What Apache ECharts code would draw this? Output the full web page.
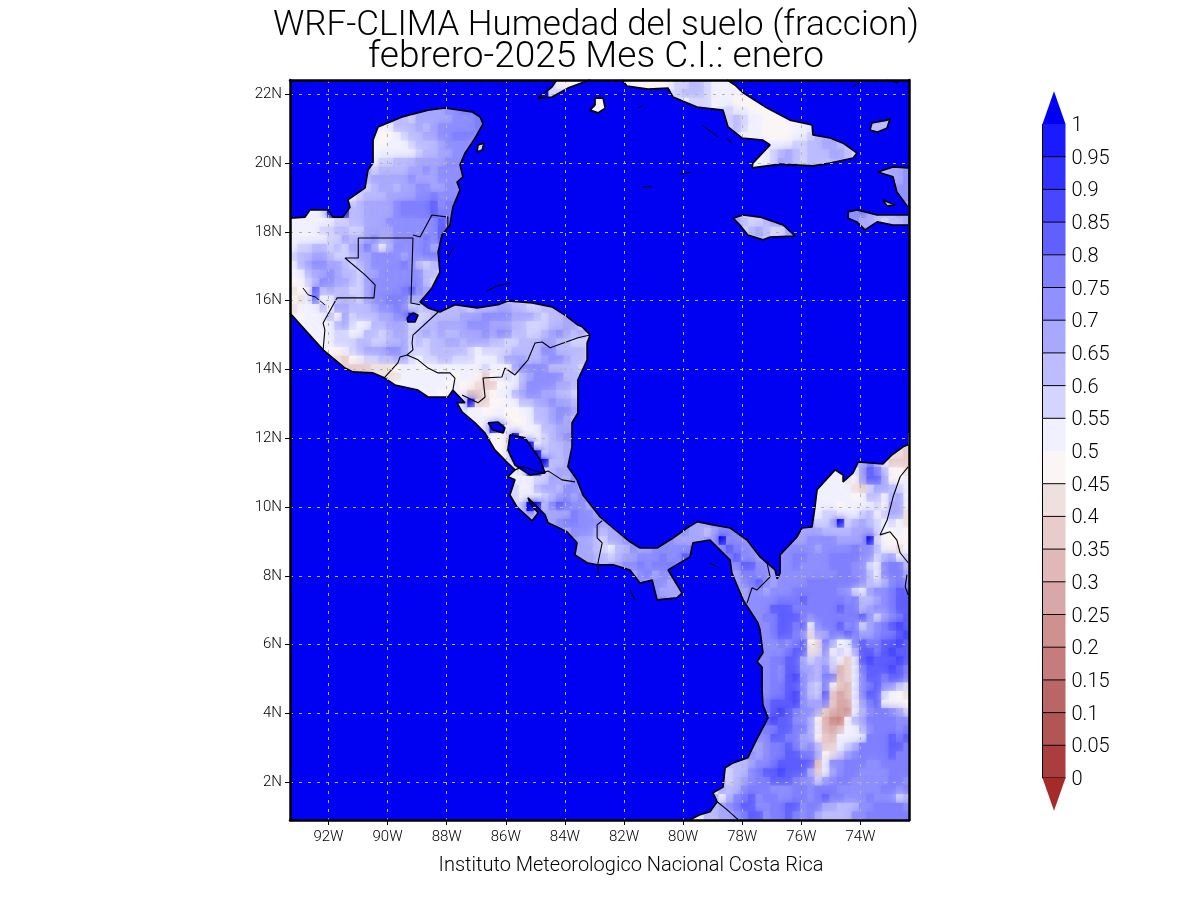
<!DOCTYPE html>
<html>
<head>
<meta charset="utf-8">
<script src="https://cdn.jsdelivr.net/npm/echarts@6/dist/echarts.min.js"></script>
<style>
  html, body { margin: 0; background: #fff; }
  #chart { width: 1200px; height: 900px; }
</style>
</head>
<body>
<div id="chart"></div>
<script>
const lonTicks = [-92, -90, -88, -86, -84, -82, -80, -78, -76, -74];
const latTicks = [2, 4, 6, 8, 10, 12, 14, 16, 18, 20, 22];
const legendTicks = [0, 0.05, 0.1, 0.15, 0.2, 0.25, 0.3, 0.35, 0.4, 0.45, 0.5, 0.55, 0.6, 0.65, 0.7, 0.75, 0.8, 0.85, 0.9, 0.95, 1];

// one colour per class, a = 0-0.05 ... t = 0.95-1, '.' = above 1 (sea, lakes)
const levelCodes = 'abcdefghijklmnopqrst.';
const levelColors = ['#aa3d3d', '#b25555', '#bb6666', '#c67c7c', '#cf9090', '#d8a8a8', '#e0b8b8', '#e8cccc', '#efe0e0', '#fbf5f5',
  '#f0f0ff', '#d4d4ff', '#bcbcff', '#a8a8ff', '#9090ff', '#8080ff', '#6060ff', '#4747ff', '#3030ff', '#1a1aff', '#0000f2'];
const seaColor = '#0000f2';
const belowColor = '#a52a2a';

// soil moisture classes, 0.25 degree cells, north to south
// each row: "firstColumn:codes", everything not listed is sea
const cellSize = 0.25;
const firstLon = -93.3;
const firstLat = 22.4;
const soilRows = [
  '36:kjjk 46:kjjjjkllmmlkkkj',
  '36:ll 52:lmmmlkkkkj',
  '41:kj 53:klllkkkjjjk',
  '19:nnooppp 41:kj 59:lkkjjj',
  '14:mmlnnnnnooop 59:lmlkkjjjk',
  '12:kkmmmnmnooooop 59:lmlkkjjjjkkk 79:mm',
  '11:kjjklmmnnoopppo 61:kkkjjjjkklm',
  '11:jjkkklmmmnoooo 25:l 65:kkkllmmnnm',
  '11:jkkkkklmmnnoo 64:klmnmlmmmnnml',
  '11:kllmmmnnnnoo 63:kklnnmlmmm',
  '11:lmmmmnnonooo 80:mnno',
  '10:mnnnnnonnnooo 82:no',
  '10:lmnnmnnoonnoo 83:o',
  '8:klmmmnnnnoopooo',
  '8:lmnnnnoppppqo 21:pp',
  '3:kk 5:... 8:mmnnnnoppppqp 76:opnmmmnn',
  '0:kkkkkkllmmnnnoooooooqp 60:nmllmno 76:onnmlmmn',
  '0:kkkkllmmllnnnnooooooq 61:lmnmlln',
  '0:kkkkkllnmmnonnoooopoq',
  '0:kllmmlmlnnpnkmoooopnn',
  '0:lmmnnmllmnnoooonooppo',
  '0:kmnoonnmlmnoooopomlmn',
  '0:kkmnnonmmlnnoooooomml',
  '0:jjlmoonnmlnoooooooml',
  '0:ijjqmnmmllnoooopqon',
  '0:jikqkkmmmlnoopppnn',
  '0:ikkkmjnnmmmnoopol 21:mmmlmmmnnmmllmm',
  '1:jkkkmjnlmmmnnoo 16:. 17:llmmmmnnnoooonnnmlmmn',
  '1:jkkkkmnlkkmmnnn 16:llmmnnnnooonnnmmlllmmnnl',
  '2:jkkkllkkmmlmnn 16:lmnmnmmnnnonoommllmnonmnl',
  '3:jkklllmmllmmn 16:lmlmmnnmnnnmmllmmmnnmmlll',
  '5:jjklmnnnoon 16:lllmmmmmlkllllmmmmoommmml',
  '6:ihjkllmmnnl 17:kllmmlllkkklnnnmmnoonmml',
  '8:hhhiiij 15:kkkjkkkkkkklkkjnoooommmml',
  '13:iikkkkkkkjkkjhjklkmnoooommm',
  '14:jkkkkkkjkjjihhjkkmoooonnmm',
  '19:kjk 24:hhijkkmnoonnmml',
  '23:k.hhjjkkmmnnonnm',
  '24:kkjjkjjkkmmnoon',
  '25:kkkkjjjkmmnonm',
  '26:k..kjjkkmmnn',
  '27:kjj.jkklmno',
  '28:jj...klmmn 83:h',
  '29:j....lmmn 81:iih',
  '30:k....mm 77:n 80:jhhh',
  '31:k..lmnn 74:k 76:knqpmjji',
  '30:kkkllnnmo 72:kkk 76:jnqqnjjk',
  '30:lkkmnnmoon 71:kkkkkihlnnmlk',
  '30:lkkklmnonoo 70:kkkkkkjjmmkmnk',
  '31:l..moqpoon 71:kkkjkkkkljnnk',
  '33:mnnnnpoon 71:kllkkklmklnni',
  '35:noppooon 55:nno 71:llm.lmnmlklki',
  '37:nooonmnn 53:onnmnooo 69:nnnmmmmnnnlkjkj',
  '39:nnmlnnon 51:onnn 57:n.ooon 68:nnoooonnnn.ljjjj',
  '39:nnmlkmmonnooooo 57:ooqpoon 66:ooooonoooopoomkjij',
  '39:nn 42:mlmnnooopooq 59:pqoon 66:ooppoooppppoolmnkl',
  '41:nmnnoopoppp 60:oqqoon 66:oopoooopppoolkoppm',
  '46:nopnoo 60:nppoon 66:ooooooooppoomkoppn',
  '47:onoon 60:nopqon 66:oooopppppppomlmopo',
  '49:onnn 61:noono 66:ooppppppoolknoopq',
  '49:oonn 61:nooo 65:opppqpppppopmmnopq',
  '62:oooqqqppppppqppmnoopqq',
  '63:oppqqqpoppppppqolnopq',
  '64:opqqpqkoppqoplnopqrq',
  '64:opqqpoinnppqpnnoppqr',
  '64:oopopqjipnkkoqppqqrq',
  '64:ooopqqiioklkmqqpqrqq',
  '63:ooppqqnlmnlkhkqrqqqrq',
  '64:opoqqnnmolghkpqqqrqp',
  '64:opoqronmppghkoqqpqqp',
  '64:oppqqomlpkhgkopqooml',
  '64:oppqromlqhfgkoqqlkji',
  '64:pqqqronnphffknpqkjjj',
  '64:pqrqpoonhgfekmopponl',
  '64:qrqqoonjgedjmnppppoo',
  '64:ppqqppnkgfgkkmopppop',
  '64:oqqppnnjhgkkkkpppqpq',
  '63:noppqpnomhhklmppppqqp',
  '63:noppqqppnjilnoppppqpp',
  '60:mmnoopqqqqqgkoopppoopppp',
  '59:lmmopqqrqqqnhknoppooooppp',
  '59:lmnoppqqqpoolnoppoooooppo',
  '58:nmmopppoooppopppooooooppop',
  '58:kmopqoppooppopqppooopooolm',
  '57:mnopqqooppqqoppnnmmmooppppo',
  '55:kmmnnopqqoppqpopnmmmmoopppppp'
];

// coastlines in [lon, lat]
const caribbeanCoast = [[-93.30,18.40],[-92.79,18.43],[-92.62,18.64],[-92.01,18.64],[-91.85,18.43],[-91.51,18.43],[-91.27,18.72],[-91.34,18.93],[-90.76,19.28],[-90.66,19.80],[-90.49,20.00],[-90.49,20.67],[-90.32,21.05],[-89.51,21.34],[-88.63,21.54],[-88.06,21.60],[-87.14,21.49],[-86.87,21.34],[-86.77,21.14],[-87.04,20.73],[-87.38,20.29],[-87.55,19.95],[-87.45,19.60],[-87.65,19.45],[-87.55,19.22],[-87.79,18.72],[-87.89,18.20],[-88.16,17.91],[-88.29,17.42],[-88.23,16.83],[-88.50,16.37],[-88.90,15.96],[-88.63,15.79],[-88.23,15.67],[-87.72,15.88],[-86.97,15.79],[-86.26,15.88],[-85.93,15.99],[-85.11,15.93],[-84.44,15.82],[-84.00,15.58],[-83.56,15.29],[-83.42,15.24],[-83.15,15.00],[-83.25,14.77],[-83.25,14.28],[-83.56,13.70],[-83.56,12.74],[-83.76,12.45],[-83.76,11.75],[-83.90,11.17],[-83.59,10.79],[-83.39,10.35],[-82.81,9.71],[-82.37,9.39],[-81.80,8.99],[-81.46,8.81],[-80.88,8.81],[-80.34,9.10],[-79.87,9.39],[-79.53,9.57],[-78.99,9.48],[-78.41,9.39],[-77.84,9.04],[-77.40,8.55],[-76.89,8.17],[-76.82,7.91],[-76.72,8.08],[-76.72,8.61],[-76.15,9.13],[-75.98,9.39],[-75.64,9.42],[-75.54,10.00],[-75.47,10.50],[-74.86,11.08],[-74.59,10.93],[-74.59,10.73],[-74.25,10.99],[-74.08,11.31],[-73.24,11.25],[-72.93,11.52],[-72.56,11.75],[-72.39,11.81]];
const pacificCoast = [[-93.30,15.64],[-92.79,15.15],[-92.18,14.57],[-91.44,14.04],[-91.17,13.93],[-90.49,13.90],[-90.09,13.75],[-89.75,13.55],[-88.97,13.40],[-88.63,13.20],[-87.95,13.20],[-87.79,13.40],[-87.38,13.03],[-87.65,13.03],[-87.48,12.77],[-87.04,12.45],[-86.70,12.15],[-86.37,11.66],[-85.93,11.28],[-85.69,11.08],[-85.93,10.88],[-85.69,10.79],[-85.86,10.35],[-85.62,10.00],[-85.11,9.60],[-84.91,9.83],[-85.18,10.12],[-85.25,10.27],[-84.67,9.77],[-84.57,9.54],[-83.93,9.28],[-83.59,8.96],[-83.66,8.61],[-83.25,8.38],[-82.91,8.32],[-82.37,8.32],[-81.80,8.17],[-81.46,7.79],[-81.05,7.88],[-80.88,7.30],[-80.21,7.36],[-80.04,7.50],[-80.51,8.17],[-79.77,8.55],[-79.67,8.96],[-79.09,9.04],[-78.41,8.46],[-78.35,8.08],[-77.97,7.30],[-77.47,6.63],[-77.40,6.43],[-77.30,5.76],[-77.50,5.50],[-77.33,5.35],[-77.33,4.68],[-77.30,4.25],[-77.13,3.87],[-77.57,3.14],[-77.81,2.71],[-78.31,2.56],[-78.58,2.42],[-78.65,1.86],[-78.99,1.69],[-78.85,1.43],[-79.09,1.14],[-79.43,1.05],[-79.77,0.91]];
const cubaCoast = [[-82.07,22.42],[-81.90,22.24],[-81.19,22.15],[-80.51,22.18],[-80.34,21.92],[-79.53,21.63],[-78.65,21.54],[-78.48,21.05],[-78.01,20.73],[-77.30,20.67],[-77.06,20.53],[-77.64,20.00],[-77.67,19.86],[-76.72,19.97],[-75.61,19.92],[-75.03,20.00],[-74.25,20.15],[-74.12,20.29],[-74.59,20.58],[-75.03,20.73],[-75.61,20.82],[-75.64,21.11],[-76.39,21.25],[-77.16,21.60],[-77.97,22.04],[-78.25,22.27],[-78.52,22.42]];
const westCubaCoast = [[-83.15,22.42],[-83.90,22.18],[-84.44,21.92],[-84.91,21.89],[-84.44,22.21],[-84.27,22.42]];
const juventudCoast = [[-82.98,21.89],[-82.71,21.89],[-82.64,21.60],[-82.88,21.46],[-83.15,21.54],[-82.98,21.69],[-82.98,21.89]];
const cozumelCoast = [[-86.97,20.32],[-86.94,20.53],[-86.74,20.58],[-86.80,20.38],[-86.97,20.32]];
const jamaicaCoast = [[-78.31,18.40],[-77.97,18.49],[-77.40,18.43],[-76.62,18.20],[-76.22,17.88],[-77.06,17.85],[-77.30,17.77],[-77.81,17.91],[-78.08,18.20],[-78.31,18.40]];
const haitiNorthCoast = [[-72.39,19.86],[-72.90,19.89],[-73.41,19.74],[-72.90,19.60],[-72.77,19.16],[-72.39,18.72]];
const haitiSouthCoast = [[-72.39,18.20],[-72.90,18.20],[-73.44,18.29],[-73.85,18.06],[-74.12,18.29],[-74.42,18.40],[-74.42,18.58],[-74.12,18.64],[-73.44,18.49],[-72.39,18.49]];
const inaguaCoast = [[-73.68,20.96],[-73.61,21.17],[-73.10,21.25],[-73.00,21.31],[-73.10,21.02],[-73.44,20.90],[-73.68,20.96]];
const gonaveCoast = [[-73.24,18.93],[-72.83,18.78],[-73.10,18.75],[-73.24,18.93]];
const smallIslands = [
  [[-86.64,16.28],[-86.30,16.43],[-85.86,16.51]],
  [[-79.36,21.11],[-78.82,20.76]],
  [[-78.52,20.73],[-78.35,20.56]],
  [[-80.11,19.68],[-79.73,19.74]],
  [[-81.39,19.31],[-81.05,19.31]],
  [[-81.53,21.60],[-81.36,21.69]],
  [[-74.25,22.21],[-73.95,22.42]],
  [[-73.10,22.42],[-72.73,22.33]],
  [[-87.95,17.27],[-87.79,17.53]],
  [[-92.86,16.37],[-92.69,16.17],[-92.45,16.11],[-92.12,15.88]],
  [[-79.09,8.37],[-78.85,8.26]],
  [[-81.80,7.59],[-81.63,7.30]],
  [[-81.72,12.55],[-81.68,12.50]]
];
const lakeNicaragua = [[-85.86,12.10],[-85.35,12.01],[-84.84,11.37],[-84.67,10.99],[-85.18,10.93],[-85.69,11.22],[-85.93,11.66],[-85.86,12.10]];
const lakeManagua = [[-86.60,12.45],[-86.26,12.47],[-86.03,12.30],[-86.09,12.15],[-86.43,12.24],[-86.60,12.45]];
const lakeIzabal = [[-89.34,15.50],[-89.14,15.64],[-88.97,15.58],[-89.07,15.38],[-89.31,15.38],[-89.34,15.50]];

// country borders
const borderLines = [
  [[-92.18,14.57],[-92.12,15.15],[-92.18,15.35],[-91.71,16.08],[-90.46,16.08],[-90.42,16.46],[-90.76,16.75],[-91.44,17.24],[-90.99,17.24],[-90.99,17.82],[-89.14,17.82],[-89.21,15.93],[-88.90,15.88]],
  [[-89.14,17.91],[-88.90,17.85],[-88.50,18.49],[-87.96,18.43],[-87.96,18.14]],
  [[-88.29,15.67],[-89.14,15.00],[-89.17,14.77],[-89.14,14.57],[-89.34,14.42]],
  [[-89.34,14.42],[-89.58,14.36],[-89.65,14.19],[-90.09,13.78]],
  [[-89.34,14.42],[-88.97,14.28],[-88.63,14.04],[-88.29,13.90],[-87.89,13.90],[-87.72,13.75],[-87.79,13.40]],
  [[-87.48,13.26],[-86.94,13.03],[-86.70,13.20],[-86.77,13.75],[-86.13,13.78],[-86.03,14.04],[-85.69,13.84],[-85.25,14.28],[-85.01,14.77],[-84.77,14.80],[-84.50,14.63],[-83.56,14.92],[-83.15,15.00]],
  [[-85.69,11.08],[-85.42,11.17],[-84.77,10.99],[-84.57,11.05],[-84.10,10.79],[-83.66,10.73]],
  [[-82.74,9.60],[-82.91,9.48],[-82.91,9.10],[-82.74,8.96],[-82.88,8.38],[-82.88,8.03]],
  [[-77.40,8.55],[-77.16,8.37],[-77.06,7.97],[-77.50,7.59],[-77.67,7.65],[-77.84,7.21]],
  [[-72.39,11.17],[-72.66,10.88],[-72.90,10.29],[-73.10,9.62],[-73.34,9.19],[-73.00,9.28],[-72.77,9.04],[-72.66,8.67],[-72.39,8.38]],
  [[-72.43,8.03],[-72.49,7.68],[-72.39,7.45]],
  [[-78.85,1.43],[-78.52,1.20],[-78.14,0.91]]
];

const islandRings = [cubaCoast, westCubaCoast, juventudCoast, cozumelCoast, jamaicaCoast, haitiNorthCoast, haitiSouthCoast, inaguaCoast, gonaveCoast];
const lakeRings = [lakeNicaragua, lakeManagua, lakeIzabal];
const coastLines = [caribbeanCoast, pacificCoast, ...islandRings, ...lakeRings];

const lonMin = -93.3, lonMax = -72.36, latMin = 0.9, latMax = 22.416;
const thinFont = 'Roboto';

// rows to [lon, lat, level]
const cells = [];
soilRows.forEach((row, r) => {
  row.split(' ').forEach(part => {
    const [start, codes] = part.split(':');
    codes.split('').forEach((code, i) => {
      cells.push([firstLon + (+start + i) * cellSize, firstLat - r * cellSize, levelCodes.indexOf(code)]);
    });
  });
});
const landCells = cells.filter(c => c[2] < 20);

function renderCell(params, api) {
  const p0 = api.coord([api.value(0), api.value(1)]);
  const p1 = api.coord([api.value(0) + cellSize, api.value(1) - cellSize]);
  const fill = levelColors[api.value(2)];
  return {
    type: 'rect',
    shape: { x: p0[0], y: p0[1], width: p1[0] - p0[0] + 0.6, height: p1[1] - p0[1] + 0.6 },
    style: { fill, shadowColor: fill, shadowBlur: 10 }
  };
}

// same cells a step wider, so the land colour reaches the coastline under the sea shapes
function renderUnderCell(params, api) {
  const p0 = api.coord([api.value(0) - cellSize, api.value(1) + cellSize]);
  const p1 = api.coord([api.value(0) + 2 * cellSize, api.value(1) - 2 * cellSize]);
  return {
    type: 'rect',
    shape: { x: p0[0], y: p0[1], width: p1[0] - p0[0], height: p1[1] - p0[1] },
    style: { fill: levelColors[api.value(2)] }
  };
}

function ringArea(points) {
  let sum = 0;
  points.forEach((p, i) => {
    const q = points[(i + 1) % points.length];
    sum += p[0] * q[1] - q[0] * p[1];
  });
  return sum;
}

function ringPath(ring, api) {
  return ring.map((p, i) => {
    const c = api.coord(p);
    return (i ? 'L' : 'M') + c[0].toFixed(1) + ' ' + c[1].toFixed(1);
  }).join(' ') + ' Z ';
}

// sea shapes: the Caribbean with holes for the islands, the Pacific, the lakes
const caribbeanRing = [...caribbeanCoast, [lonMax, latMax], [lonMin, latMax]];
const pacificRing = [...pacificCoast, [lonMin, latMin]];
const caribbeanSign = Math.sign(ringArea(caribbeanRing));
const islandHoles = islandRings.map(r => (Math.sign(ringArea(r)) === caribbeanSign ? [...r].reverse() : r));
const seaShapes = [[caribbeanRing, ...islandHoles], [pacificRing], ...lakeRings.map(r => [r])];

function renderSea(params, api) {
  const pathData = seaShapes[params.dataIndex].map(ring => ringPath(ring, api)).join('');
  return { type: 'path', shape: { pathData }, style: { fill: seaColor } };
}

// colour bar: each class with a black edge, triangles at both ends
function renderLegendCell(params, api) {
  const lo = api.value(0);
  const hi = api.value(1);
  const a = api.coord([0, hi]);
  const b = api.coord([1, lo]);
  const children = [{
    type: 'rect',
    shape: { x: a[0], y: a[1], width: b[0] - a[0], height: b[1] - a[1] },
    style: { fill: levelColors[api.value(2)] }
  }, {
    type: 'line',
    shape: { x1: a[0], y1: a[1], x2: a[0], y2: b[1] },
    style: { stroke: '#000', lineWidth: 1 }
  }];
  if (lo !== 0.5) {
    children.push({
      type: 'line',
      shape: { x1: a[0], y1: b[1], x2: b[0], y2: b[1] },
      style: { stroke: '#000', lineWidth: 1 }
    });
  }
  return { type: 'group', children };
}

function renderLegendEnd(params, api) {
  const base = api.value(0);
  const left = api.coord([0, base]);
  const right = api.coord([1, base]);
  const top = api.coord([0.5, api.value(1)]);
  return {
    type: 'polygon',
    shape: { points: [left, right, top] },
    style: { fill: api.value(2) === 1 ? levelColors[20] : belowColor }
  };
}

const legendCells = legendTicks.slice(0, -1).map((v, i) => [v, legendTicks[i + 1], i]);
const legendEnds = [[1, 1.05, 1], [0, -0.05, 0]];

const frameAxis = {
  min: 0, max: 1, z: 10,
  axisLine: { show: true, onZero: false, lineStyle: { color: '#000', width: 2.5 } },
  axisTick: { show: false }, axisLabel: { show: false }, splitLine: { show: false }
};
const gridDash = { color: '#b8b89a', width: 1, type: [3, 6] };
const tickLabel = { fontFamily: thinFont, fontWeight: 300, fontSize: 15, color: '#000' };

const chart = echarts.init(document.getElementById('chart'));
chart.setOption({
  animation: false,
  backgroundColor: '#fff',
  title: [
    {
      text: 'WRF-CLIMA Humedad del suelo (fraccion)',
      left: 591, top: 4, textAlign: 'center',
      textStyle: { fontFamily: thinFont, fontWeight: 300, fontSize: 35, color: '#000' }
    },
    {
      text: 'febrero-2025 Mes C.I.: enero',
      left: 591, top: 34, textAlign: 'center',
      textStyle: { fontFamily: thinFont, fontWeight: 300, fontSize: 37, color: '#000' }
    },
    {
      text: 'Instituto Meteorologico Nacional Costa Rica',
      left: 626, top: 851, textAlign: 'center',
      textStyle: { fontFamily: thinFont, fontWeight: 300, fontSize: 20, color: '#000' }
    }
  ],
  grid: [
    { left: 290, top: 80, width: 619, height: 740, show: true, backgroundColor: seaColor, borderWidth: 0 },
    { left: 1042.5, top: 91.3, width: 23, height: 719.4 },
    // labels of the colour bar sit a little lower than the class edges
    { left: 1042.5, top: 93.3, width: 23, height: 719.4 }
  ],
  xAxis: [
    {
      type: 'value', gridIndex: 0, min: lonMin, max: lonMax, position: 'bottom', z: 10,
      axisLine: { onZero: false, lineStyle: { color: '#000', width: 2.5 } },
      axisTick: { length: 5, customValues: lonTicks, lineStyle: { color: '#000' } },
      axisLabel: { customValues: lonTicks, margin: 10, formatter: v => Math.abs(v) + 'W', ...tickLabel },
      splitLine: { show: true, lineStyle: gridDash }
    },
    { ...frameAxis, type: 'value', gridIndex: 0, position: 'top' },
    { type: 'value', gridIndex: 1, min: 0, max: 1, show: false },
    { type: 'value', gridIndex: 2, min: 0, max: 1, show: false }
  ],
  yAxis: [
    {
      type: 'value', gridIndex: 0, min: latMin, max: latMax, position: 'left', z: 10,
      axisLine: { onZero: false, lineStyle: { color: '#000', width: 2.5 } },
      axisTick: { length: 5, customValues: latTicks, lineStyle: { color: '#000' } },
      axisLabel: { customValues: latTicks, margin: 8, formatter: v => v + 'N', ...tickLabel },
      splitLine: { show: true, lineStyle: gridDash }
    },
    { ...frameAxis, type: 'value', gridIndex: 0, position: 'right' },
    { type: 'value', gridIndex: 1, min: -0.05, max: 1.05, show: false },
    {
      type: 'value', gridIndex: 2, min: -0.05, max: 1.05, position: 'right',
      axisLine: { show: false }, axisTick: { show: false }, splitLine: { show: false },
      axisLabel: {
        customValues: legendTicks, margin: 6, formatter: v => String(v),
        fontFamily: thinFont, fontWeight: 300, fontSize: 20, color: '#000'
      }
    }
  ],
  series: [
    { type: 'custom', xAxisIndex: 0, yAxisIndex: 0, data: landCells, renderItem: renderUnderCell, clip: true, z: 1, silent: true },
    { type: 'custom', name: 'soil', xAxisIndex: 0, yAxisIndex: 0, data: cells, renderItem: renderCell, clip: true, z: 2, silent: true },
    { type: 'custom', xAxisIndex: 0, yAxisIndex: 0, data: seaShapes.map((s, i) => [i]), renderItem: renderSea, clip: true, z: 3, silent: true },
    ...coastLines.map(line => ({
      type: 'line', xAxisIndex: 0, yAxisIndex: 0, data: line, showSymbol: false, silent: true, z: 4,
      lineStyle: { color: '#000', width: 1.6 }
    })),
    ...smallIslands.map(line => ({
      type: 'line', xAxisIndex: 0, yAxisIndex: 0, data: line, showSymbol: false, silent: true, z: 4,
      lineStyle: { color: '#000', width: 1 }
    })),
    ...borderLines.map(line => ({
      type: 'line', xAxisIndex: 0, yAxisIndex: 0, data: line, showSymbol: false, silent: true, z: 4,
      lineStyle: { color: '#000', width: 1.1 }
    })),
    { type: 'custom', xAxisIndex: 2, yAxisIndex: 2, data: legendCells, renderItem: renderLegendCell, silent: true },
    { type: 'custom', xAxisIndex: 2, yAxisIndex: 2, data: legendEnds, renderItem: renderLegendEnd, silent: true }
  ]
});
</script>
</body>
</html>
